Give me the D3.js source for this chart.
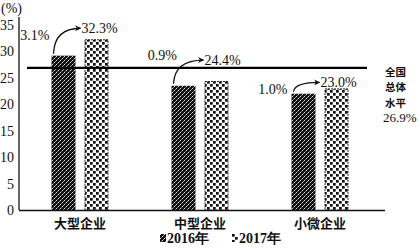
<!DOCTYPE html>
<html>
<head>
<meta charset="utf-8">
<script src="https://cdn.jsdelivr.net/npm/d3@7"></script>
<style>
  body { margin: 0; background: #fff; }
  svg { display: block; }
  .num { font-family: "Liberation Serif", "DejaVu Serif", serif; font-size: 14px; fill: #111; }
  .cjk { font-family: "Noto Sans CJK SC", sans-serif; font-size: 13px; font-weight: 700; fill: #111; }
</style>
</head>
<body>
<svg></svg>
<script>
const w = 419
const h = 251
const svg = d3.select("svg").attr("width", w).attr("height", h)

// data
const categories = ["大型企业", "中型企业", "小微企业"]
const years = ["2016年", "2017年"]
const values2016 = [29.2, 23.5, 22.0]
const values2017 = [32.3, 24.4, 23.0]
const growth = ["3.1%", "0.9%", "1.0%"]
const yTicks = [0, 5, 10, 15, 20, 25, 30, 35]
const nationalLevel = 26.9
const nationalLabel = ["全国", "总体", "水平"]

// layout of the annotations (relative to bar tops)
const growthLabelPos = [[-2, -16], [5.5, -26], [-4, 0]]   // [dx from 2016 bar left, dy from 2016 bar top]
const valueLabelDy = [-6, -16, -1]                       // above 2017 bar top
const valueLabelDx = [3, 6, 2]

const x = d3.scaleBand().domain(categories).range([20, 380])
const y = d3.scaleLinear().domain([0, 35]).range([210, 25])
const barW = 24
const gap = 9

const defs = svg.append("defs")
// 2016: dark speckled
const p1 = defs.append("pattern").attr("id", "p2016")
    .attr("patternUnits", "userSpaceOnUse").attr("width", 4).attr("height", 4)
p1.append("rect").attr("width", 4).attr("height", 4).attr("fill", "#111")
p1.append("rect").attr("x", 0).attr("y", 0).attr("width", 1).attr("height", 1).attr("fill", "#ddd")
p1.append("rect").attr("x", 2).attr("y", 2).attr("width", 1).attr("height", 1).attr("fill", "#ddd")
p1.append("rect").attr("x", 3).attr("y", 1).attr("width", 1).attr("height", 1).attr("fill", "#999")
p1.append("rect").attr("x", 1).attr("y", 3).attr("width", 1).attr("height", 1).attr("fill", "#777")
// 2017: checkerboard
const p2 = defs.append("pattern").attr("id", "p2017")
    .attr("patternUnits", "userSpaceOnUse").attr("width", 6).attr("height", 6)
p2.append("rect").attr("width", 6).attr("height", 6).attr("fill", "#fff")
p2.append("rect").attr("x", 0).attr("y", 0).attr("width", 2.7).attr("height", 2.7).attr("fill", "#111")
p2.append("rect").attr("x", 3).attr("y", 3).attr("width", 2.7).attr("height", 2.7).attr("fill", "#111")

const center = c => x(c) + x.bandwidth() / 2
const left2016 = c => center(c) - gap / 2 - barW
const left2017 = c => center(c) + gap / 2

// y axis
const yAxis = svg.append("g")
    .attr("transform", "translate(19,0)")
    .call(d3.axisLeft(y).tickValues(yTicks).tickSize(0).tickPadding(5))
yAxis.select(".domain").remove()
yAxis.selectAll("text").attr("class", "num").attr("font-family", null).attr("font-size", null)

svg.append("line").attr("x1", 19).attr("x2", 19).attr("y1", 17).attr("y2", y(0))
    .attr("stroke", "#111").attr("stroke-width", 1.3)
svg.append("text").attr("class", "num").attr("x", 1).attr("y", 13).text("(%)")

// bars
svg.selectAll(".b16").data(categories).enter().append("rect")
    .attr("x", c => left2016(c))
    .attr("y", (c, i) => y(values2016[i]))
    .attr("width", barW)
    .attr("height", (c, i) => y(0) - y(values2016[i]))
    .attr("fill", "url(#p2016)")

svg.selectAll(".b17").data(categories).enter().append("rect")
    .attr("x", c => left2017(c) + 0.5)
    .attr("y", (c, i) => y(values2017[i]) + 0.5)
    .attr("width", barW - 1)
    .attr("height", (c, i) => y(0) - y(values2017[i]) - 0.5)
    .attr("fill", "url(#p2017)")
    .attr("stroke", "#222").attr("stroke-width", 1).attr("stroke-dasharray", "2,1")

// baseline
svg.append("line").attr("x1", 19).attr("x2", 385).attr("y1", y(0) + 0.5).attr("y2", y(0) + 0.5)
    .attr("stroke", "#111").attr("stroke-width", 1.5)

// national level line
svg.append("line").attr("x1", 27).attr("x2", 367).attr("y1", y(nationalLevel)).attr("y2", y(nationalLevel))
    .attr("stroke", "#000").attr("stroke-width", 2.2)

// category labels
svg.selectAll(".cat").data(categories).enter().append("text")
    .attr("class", "cjk")
    .attr("x", c => center(c))
    .attr("y", 228)
    .attr("text-anchor", "middle")
    .text(c => c)

// arrow marker
defs.append("marker").attr("id", "arrow")
    .attr("viewBox", "0 0 10 10").attr("refX", 9).attr("refY", 5)
    .attr("markerWidth", 7).attr("markerHeight", 6).attr("orient", "auto")
    .attr("markerUnits", "userSpaceOnUse")
    .append("path").attr("d", "M0,0L10,5L0,10L3,5Z").attr("fill", "#111")

categories.forEach((c, i) => {
    const x0 = left2016(c) + 2
    const y0 = y(values2016[i]) - 2
    const x2 = left2017(c) + barW / 2 + valueLabelDx[i]
    const ly = y(values2017[i]) + valueLabelDy[i]
    // 2017 value label
    svg.append("text").attr("class", "num")
        .attr("x", x2).attr("y", ly).attr("text-anchor", "middle")
        .text(values2017[i].toFixed(1) + "%")
    // curved arrow
    const ex = x2 - 19
    const ey = ly - 5
    svg.append("path")
        .attr("d", `M${x0},${y0} Q${x0 + 1},${ey} ${ex},${ey}`)
        .attr("fill", "none").attr("stroke", "#111").attr("stroke-width", 1.3)
        .attr("marker-end", "url(#arrow)")
    // growth label
    svg.append("text").attr("class", "num")
        .attr("x", left2016(c) + growthLabelPos[i][0])
        .attr("y", y(values2016[i]) + growthLabelPos[i][1])
        .attr("text-anchor", "end")
        .text(growth[i])
})

// national label on the right
svg.selectAll(".nat").data(nationalLabel).enter().append("text")
    .attr("class", "cjk")
    .style("font-size", "10.5px")
    .attr("x", 385).attr("y", (d, i) => 76 + i * 15.3)
    .text(d => d)
svg.append("text").attr("class", "num")
    .style("font-size", "13px")
    .attr("x", 383).attr("y", 122)
    .text(nationalLevel.toFixed(1) + "%")

// legend
const legend = svg.selectAll(".leg").data(years).enter().append("g")
    .attr("transform", (d, i) => `translate(${160 + i * 72},234)`)
legend.append("rect").attr("width", 6).attr("height", 8)
    .attr("fill", (d, i) => i === 0 ? "url(#p2016)" : "url(#p2017)")
legend.append("text").attr("class", "num")
    .attr("x", 7).attr("y", 9)
    .style("font-weight", "700")
    .text(d => d)
</script>
</body>
</html>
